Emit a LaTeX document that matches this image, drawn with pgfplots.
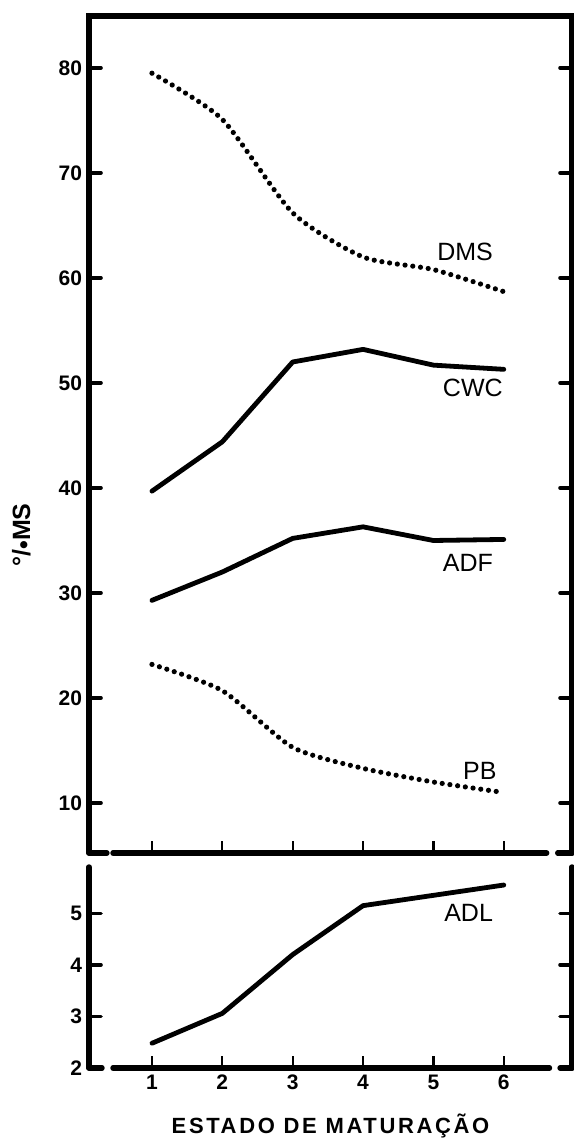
\documentclass[border=0pt]{standalone}
\usepackage{pgfplots}
\pgfplotsset{compat=1.18}
\usepackage{fontspec}
\setmainfont{Liberation Sans}
\begin{document}
\begin{tikzpicture}
\tikzset{
  spine/.style={line width=2.7pt, line cap=round},
  solidser/.style={line width=2.4pt, black, line join=round, line cap=round},
  dotser/.style={line width=2.6pt, black, line cap=round, dash pattern=on 0pt off 3.9pt},
  lab/.style={font=\fontsize{12.5}{14}\selectfont},
}
\pgfplotsset{
  common/.style={
    scale only axis, width=241.5pt,
    xmin=0.105, xmax=6.97,
    xtick={1,2,3,4,5,6},
    tick align=inside, xtick pos=left, ytick pos=both,
    axis line style={draw=none},
    major tick length=6pt,
    y tick style={line width=1.8pt, black, line cap=round},
    x tick style={line width=1.1pt, black},
    /pgf/number format/assume math mode=true,
    ticklabel style={font=\fontsize{10.5}{12}\selectfont\bfseries},
    clip=false,
  },
}
\useasboundingbox (0,0) rectangle (286.5pt,569pt);
% top panel
\begin{axis}[common, at={(44.5pt,142.5pt)}, anchor=south west,
  height=418.5pt, ymin=5.24, ymax=84.95,
  ytick={10,20,30,40,50,60,70,80}, xticklabels={,,,,,}]
\addplot[dotser, smooth, tension=0.4] coordinates {(1,79.5)(2,75.1)(3,66.2)(4,62.0)(5,60.8)(6,58.7)};
\addplot[solidser] coordinates {(1,39.7)(2,44.4)(3,52.0)(4,53.2)(5,51.7)(6,51.3)};
\addplot[solidser] coordinates {(1,29.3)(2,32.0)(3,35.2)(4,36.3)(5,35.0)(6,35.1)};
\addplot[dotser, smooth, tension=0.4] coordinates {(1,23.2)(2,20.7)(3,15.3)(4,13.3)(5,12.0)(6,11.0)};
\node[lab] at (axis cs:5.45,62.5) {DMS};
\node[lab] at (axis cs:5.56,49.5) {CWC};
\node[lab] at (axis cs:5.49,32.9) {ADF};
\node[lab] at (axis cs:5.66,13.1) {PB};
\draw[spine] (axis cs:0.105,5.24) -- (axis cs:0.105,84.95) -- (axis cs:6.97,84.95) -- (axis cs:6.97,5.24);
\draw[spine] (axis cs:0.105,5.24) -- (axis cs:0.36,5.24);
\draw[spine] (axis cs:0.446,5.24) -- (axis cs:6.61,5.24);
\draw[spine] (axis cs:6.767,5.24) -- (axis cs:6.97,5.24);
\end{axis}
% bottom panel
\begin{axis}[common, at={(44.5pt,35pt)}, anchor=south west,
  height=100.5pt, ymin=2, ymax=5.9,
  ytick={2,3,4,5},
  xlabel={\addfontfeature{LetterSpace=12}ESTADO DE MATURAÇÃO},
  xlabel style={font=\fontsize{11}{13}\selectfont\bfseries, yshift=-5pt}]
\addplot[solidser] coordinates {(1,2.48)(2,3.06)(3,4.2)(4,5.15)(5,5.35)(6,5.55)};
\node[lab] at (axis cs:5.5,5.0) {ADL};
\draw[spine] (axis cs:0.105,5.9) -- (axis cs:0.105,2);
\draw[spine] (axis cs:6.97,5.9) -- (axis cs:6.97,2);
\draw[spine] (axis cs:0.105,2) -- (axis cs:0.29,2);
\draw[spine] (axis cs:0.446,2) -- (axis cs:6.65,2);
\draw[spine] (axis cs:6.8,2) -- (axis cs:6.97,2);
\end{axis}
\node[rotate=90, font=\fontsize{12.5}{14}\selectfont\bfseries] at (11pt,301.5pt) {°/\raisebox{-0.15ex}{•}MS};
\end{tikzpicture}
\end{document}
